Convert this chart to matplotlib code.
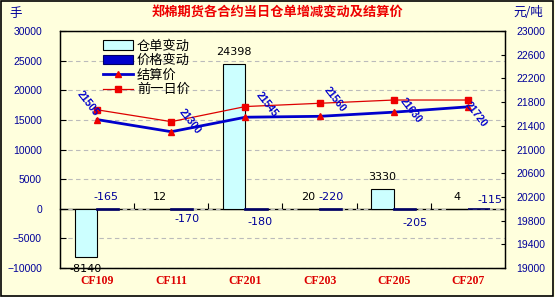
import numpy as np
import matplotlib
matplotlib.use('Agg')
import matplotlib.pyplot as plt
from matplotlib.patches import Patch, Rectangle
from matplotlib.lines import Line2D

plt.rcParams['font.family'] = ['Liberation Sans', 'Noto Sans CJK SC', 'DejaVu Sans']

contracts = ['CF109', 'CF111', 'CF201', 'CF203', 'CF205', 'CF207']
receipt_change = [-8140, 12, 24398, 20, 3330, 4]
price_change = [-165, -170, -180, -220, -205, -115]
settle = [21505, 21300, 21545, 21560, 21630, 21720]
prev_price = [21670, 21470, 21725, 21780, 21835, 21835]

# label placement (pixels), purely styling
settle_off = [(-9, 16), (19, 10), (21, 13), (15, 17), (17, 2), (8, -8)]
pchg_off = [(-2, 12), (5, -10), (3, -13), (0, 12), (10, -14), (11, 9)]

bg = '#FFFFDD'
navy = '#000099'
blue = '#0000CC'
red = '#DD0000'

fig = plt.figure(figsize=(5.55, 2.97), dpi=100, facecolor=bg)
ax = fig.add_axes([60 / 555, 1 - 268 / 297, 445 / 555, 237 / 297])
ax.set_facecolor(bg)
x = np.arange(len(contracts))
w = 0.3

ax.bar(x - w / 2, receipt_change, w, color='#CCFFFF', edgecolor='black', lw=0.8, zorder=3)
ax.bar(x + w / 2, price_change, w, color=blue, edgecolor='#000066', lw=1.2, zorder=3)

ax.set_xlim(-0.5, len(contracts) - 0.5)
ax.set_ylim(-10000, 30000)
ax.set_yticks(np.arange(-10000, 30001, 5000))
ax.yaxis.grid(True, ls=(0, (4, 3)), color='#BBBBBB', lw=0.8)
ax.tick_params(axis='y', direction='in', length=4, pad=13, labelsize=7.5, labelcolor=navy)
ax.set_xticks(x)
ax.set_xticklabels(contracts, fontsize=8.5, fontweight='bold', color=red, family='Liberation Serif')
ax.tick_params(axis='x', length=0, pad=5)
for s in ax.spines.values():
    s.set_linewidth(0.9)

# zero line with category boundary ticks
sec = ax.secondary_xaxis(0.25)
sec.set_xticks(np.arange(0.5, len(contracts) - 0.5, 1))
sec.tick_params(direction='in', length=4, labelbottom=False, width=0.8)
sec.spines['bottom'].set_linewidth(1.0)

for i, v in enumerate(receipt_change):
    ax.annotate(str(v), (i - w / 2, v), xytext=(0, 12 if v >= 0 else -12),
                textcoords='offset pixels', ha='center', va='center',
                fontsize=8, color='black', family='DejaVu Sans', zorder=5)
for i, v in enumerate(price_change):
    ax.annotate(str(v), (i + w / 2, 0), xytext=pchg_off[i],
                textcoords='offset pixels', ha='center', va='center',
                fontsize=8, color=navy, family='DejaVu Sans', zorder=5)

ax2 = ax.twinx()
ax2.set_ylim(19000, 23000)
ax2.set_yticks(np.arange(19000, 23001, 400))
ax2.tick_params(axis='y', direction='in', length=3, pad=8, labelsize=7.5, labelcolor=navy)
for s in ax2.spines.values():
    s.set_linewidth(0.9)

ax2.plot(x, prev_price, color=red, lw=0.9, marker='s', ms=4.5, mfc='#EE0000', mec='#EE0000', zorder=4)
ax2.plot(x, settle, color=blue, lw=2.0, marker='^', ms=5, mfc='#EE0000', mec='#EE0000', zorder=4)
for i, v in enumerate(settle):
    ax2.annotate(str(v), (i, v), xytext=settle_off[i], textcoords='offset pixels',
                 ha='center', va='center', rotation=-52, fontsize=7.5,
                 color=blue, fontweight='bold', zorder=6)

handles = [
    Patch(facecolor='#CCFFFF', edgecolor='black', lw=0.8),
    Patch(facecolor=blue, edgecolor='#000066', lw=0.8),
    Line2D([], [], color=blue, lw=2.0, marker='^', ms=5, mfc='#EE0000', mec='#EE0000'),
    Line2D([], [], color=red, lw=0.9, marker='s', ms=4.5, mfc='#EE0000', mec='#EE0000'),
]
labels = ['仓单变动', '价格变动', '结算价', '前一日价']
leg = ax2.legend(handles, labels, loc='upper left', bbox_to_anchor=(96 / 555, 1 - 33 / 297),
                 bbox_transform=fig.transFigure, frameon=False, fontsize=9.5,
                 labelspacing=0.12, handlelength=2.3, handletextpad=0.3, borderpad=0)
for t in leg.get_texts():
    t.set_family(['Noto Sans CJK SC'])

fig.text(0.5, 1 - 13 / 297, '郑棉期货各合约当日仓单增减变动及结算价', ha='center', va='center',
         fontsize=9.5, fontweight='bold', color='#EE0000', family=['Noto Sans CJK SC'])
fig.text(16 / 555, 1 - 13 / 297, '手', ha='center', va='center', fontsize=9,
         color=navy, family=['Noto Sans CJK SC'])
fig.text(528 / 555, 1 - 13 / 297, '元/吨', ha='center', va='center', fontsize=9,
         color=navy, family=['Noto Sans CJK SC'])

fig.patches.append(Rectangle((0.002, 0.004), 0.995, 0.993, transform=fig.transFigure,
                             fill=False, edgecolor='black', lw=1.2))

plt.savefig('out.png', dpi=100, facecolor=bg)
